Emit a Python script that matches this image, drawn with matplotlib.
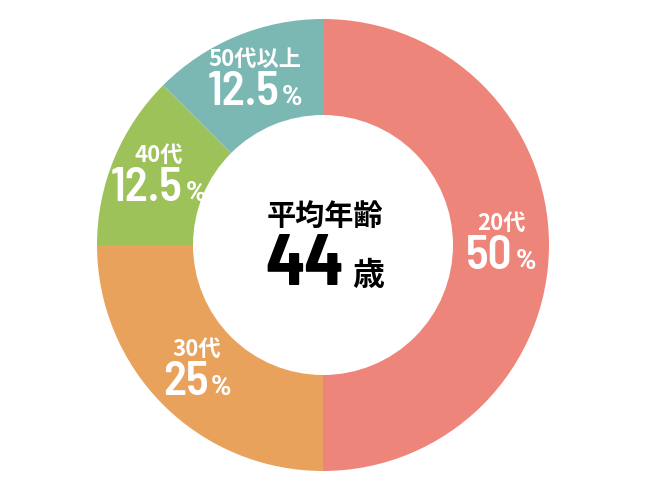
import numpy as np
import matplotlib
matplotlib.use('Agg')
import matplotlib.pyplot as plt
from matplotlib.offsetbox import TextArea, HPacker, VPacker, AnnotationBbox

# Age groups and their share (%)
groups = ['20代', '30代', '40代', '50代以上']
shares = [50, 25, 12.5, 12.5]
share_text = ['50', '25', '12.5', '12.5']
colors = ['#EE857B', '#E8A25C', '#9DC25A', '#7BB8B4']

center_title = '平均年齢'
avg_age = '44'
age_unit = '歳'

W, H = 650, 500
cx, cy = 323, H - 245
r_out = 226
r_in = 130

cjk = ['Noto Sans CJK JP', 'DejaVu Sans']
num = ['Barlow Semi Condensed', 'Barlow Condensed', 'Roboto', 'DejaVu Sans']
pct = ['Roboto', 'DejaVu Sans']

fig = plt.figure(figsize=(6.5, 5), dpi=100)
ax = fig.add_axes([0, 0, 1, 1])

wedges, _ = ax.pie(shares, colors=colors, startangle=90, counterclock=False,
                   center=(cx, cy), radius=r_out,
                   wedgeprops=dict(width=r_out - r_in, linewidth=0))

# pie resets the limits, so set them afterwards
ax.set_xlim(0, W)
ax.set_ylim(0, H)
ax.set_aspect('equal')
ax.axis('off')

r_lab = 178
for w, g, s in zip(wedges, groups, share_text):
    ang = np.deg2rad((w.theta1 + w.theta2) / 2)
    x = cx + r_lab * np.cos(ang)
    y = cy + r_lab * np.sin(ang)
    top = TextArea(g, textprops=dict(color='white', fontsize=16, fontweight='bold', family=cjk))
    n = TextArea(s, textprops=dict(color='white', fontsize=34, fontweight=600, family=num))
    p = TextArea('%', textprops=dict(color='white', fontsize=20, fontweight='bold', family=pct))
    row = HPacker(children=[n, p], align='baseline', pad=0, sep=2)
    box = VPacker(children=[top, row], align='center', pad=0, sep=0)
    ax.add_artist(AnnotationBbox(box, (x, y), frameon=False, box_alignment=(0.5, 0.5), pad=0))

t = TextArea(center_title, textprops=dict(color='black', fontsize=21, fontweight='bold', family=cjk))
a = TextArea(avg_age, textprops=dict(color='black', fontsize=52, fontweight=700, family=num))
u = TextArea(age_unit, textprops=dict(color='black', fontsize=23, fontweight='bold', family=cjk))
row = HPacker(children=[a, u], align='baseline', pad=0, sep=6)
box = VPacker(children=[t, row], align='center', pad=0, sep=2)
ax.add_artist(AnnotationBbox(box, (cx + 2, H - 250), frameon=False, box_alignment=(0.5, 0.5), pad=0))

fig.savefig('out.png', dpi=100)
